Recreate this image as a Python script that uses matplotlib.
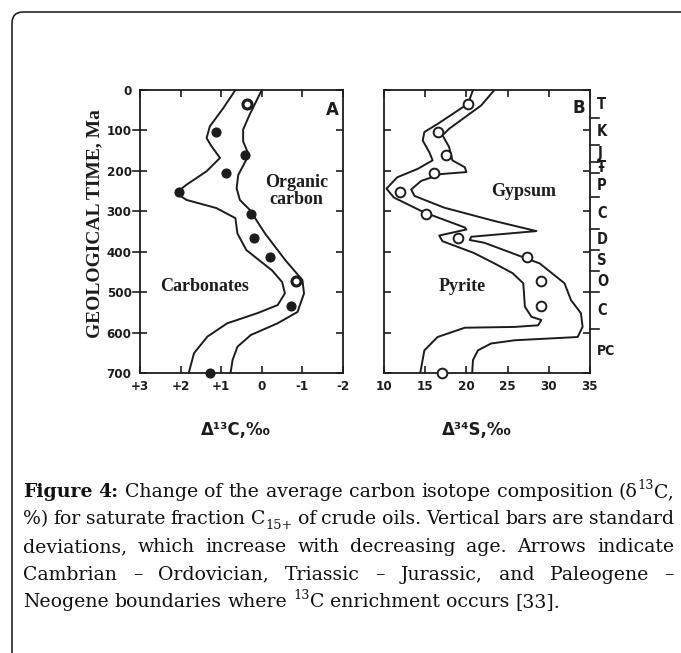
import re
import matplotlib
matplotlib.use("Agg")
import matplotlib.pyplot as plt
from matplotlib.patches import FancyBboxPatch
from matplotlib.transforms import Affine2D, blended_transform_factory

W, H, DPI = 681, 653, 100

# ---------------- data: panel A (delta 13C) ----------------
age_carb = [0, 45, 90, 119, 139, 168, 201, 234, 255, 272, 292, 317, 355, 396, 446, 475, 503, 532, 552, 577, 610, 651, 700]
d13c_carb = [0.65, 0.95, 1.28, 1.36, 1.24, 1.03, 1.36, 1.85, 2.12, 1.85, 1.12, 0.65, 0.60, 0.38, -0.25, -0.50, -0.57, -0.39, 0.11, 0.85, 1.34, 1.67, 1.80]
age_org = [0, 61, 98, 127, 156, 172, 210, 243, 272, 296, 355, 421, 470, 503, 549, 577, 606, 635, 668, 700]
d13c_org = [0.00, 0.30, 0.46, 0.46, 0.34, 0.38, 0.58, 0.62, 0.54, 0.30, -0.08, -0.58, -1.00, -1.04, -0.88, -0.39, 0.27, 0.60, 0.72, 0.77]
age_pts = [35, 105, 160, 206, 253, 306, 367, 414, 473, 534, 700]
d13c_pts = [0.36, 1.12, 0.42, 0.89, 2.05, 0.26, 0.18, -0.20, -0.85, -0.72, 1.28]
d13c_open = [True, False, False, False, False, False, False, False, True, False, False]
xticksA = [3, 2, 1, 0, -1, -2]
xlabelsA = ["+3", "+2", "+1", "0", "-1", "-2"]

# ---------------- data: panel B (delta 34S) ----------------
age_pyr = [0, 34, 84, 104, 125, 154, 174, 195, 216, 244, 266, 303, 340, 345, 360, 374, 403, 430, 453, 478, 536, 561, 569, 582, 586, 588, 611, 644, 700]
d34s_pyr = [20.8, 20.2, 16.5, 14.9, 14.7, 15.5, 15.9, 14.1, 11.6, 10.3, 11.2, 14.9, 19.8, 20.0, 16.7, 17.1, 20.9, 23.5, 25.6, 26.9, 27.1, 27.9, 29.1, 28.7, 25.9, 19.8, 16.5, 14.9, 14.4]
age_gyp = [0, 38, 96, 112, 141, 174, 191, 203, 208, 225, 246, 262, 291, 324, 349, 363, 371, 378, 429, 478, 520, 552, 586, 611, 619, 627, 644, 668, 700]
d34s_gyp = [23.4, 21.8, 17.9, 17.1, 17.9, 18.3, 19.8, 20.0, 16.9, 14.5, 13.3, 13.7, 17.3, 23.4, 28.5, 20.6, 20.4, 22.2, 28.9, 31.9, 32.7, 33.9, 34.1, 33.5, 25.9, 23.0, 21.4, 20.8, 20.7]
d34s_pts = [20.2, 16.5, 17.5, 16.1, 12.0, 15.1, 19.0, 27.3, 29.1, 29.1, 17.0]
xticksB = [10, 15, 20, 25, 30, 35]
period_names = ["T", "K", "J", "Ŧ", "P", "C", "D", "S", "O", "C", "PC"]
period_bounds = [0, 70, 135, 178, 205, 265, 345, 395, 448, 500, 590, 700]

yticks = [0, 100, 200, 300, 400, 500, 600, 700]

caption = [
    "**Figure** **4:** Change of the average carbon isotope composition (δ^{13}C,",
    "%) for saturate fraction C_{15+} of crude oils. Vertical bars are standard",
    "deviations, which increase with decreasing age. Arrows indicate",
    "Cambrian – Ordovician, Triassic – Jurassic, and Paleogene –",
    "Neogene boundaries where ^{13}C enrichment occurs [33].",
]

TICKFONT = ["DejaVu Sans"]
SERIF = ["Liberation Serif", "DejaVu Serif"]
CAPFONT = ["DejaVu Serif"]
INK = "#1c1c1c"

fig = plt.figure(figsize=(W / DPI, H / DPI), dpi=DPI)
fig.patch.set_facecolor("white")


def rect(l, t, r, b):
    return [l / W, 1 - b / H, (r - l) / W, (b - t) / H]


def style_axes(ax, outward_left):
    for s in ax.spines.values():
        s.set_linewidth(1.3)
        s.set_color(INK)
    ax.set_ylim(700, 0)
    ax.tick_params(axis="both", which="major", color=INK, width=1.2, direction="in")
    ax.tick_params(axis="y", left=True, right=True, length=5, pad=6)
    ax.tick_params(axis="x", top=True, bottom=True, length=5, pad=5)
    for lab in ax.get_xticklabels() + ax.get_yticklabels():
        lab.set_family(TICKFONT)
        lab.set_fontstretch("condensed")
        lab.set_fontweight("bold")
        lab.set_fontsize(9.5)
        lab.set_color(INK)
    if outward_left:
        bt = blended_transform_factory(ax.transAxes, ax.transData)
        for v in yticks[1:-1]:
            ax.plot([-0.035, 0], [v, v], color=INK, lw=1.2, transform=bt, clip_on=False)


# ---------------- panel A ----------------
axA = fig.add_axes(rect(140, 90, 343, 373))
axA.plot(d13c_carb, age_carb, color=INK, lw=1.4)
axA.plot(d13c_org, age_org, color=INK, lw=1.4)
for x, y, op in zip(d13c_pts, age_pts, d13c_open):
    axA.plot([x], [y], "o", ms=6.5 if op else 6.3, mfc="white" if op else INK,
             mec=INK, mew=2.2 if op else 1, clip_on=False, zorder=5)
axA.set_xlim(3, -2)
axA.set_xticks(xticksA)
axA.set_xticklabels(xlabelsA)
axA.set_yticks(yticks)
axA.set_yticklabels([str(v) for v in yticks])
style_axes(axA, True)
axA.text(0.95, 0.93, "A", transform=axA.transAxes, family=TICKFONT, fontweight="bold",
         fontsize=12, ha="center", va="center", color=INK)
axA.text(-0.85, 250, "Organic\ncarbon", family=SERIF, fontweight="bold", fontsize=13,
         ha="center", va="center", linespacing=1.0, color=INK)
axA.text(1.4, 485, "Carbonates", family=SERIF, fontweight="bold", fontsize=13,
         ha="center", va="center", color=INK)
axA.set_xlabel("Δ¹³C,‰", family=TICKFONT, fontweight="bold", fontsize=12, color=INK)
axA.xaxis.set_label_coords(0.473, -0.17)
axA.set_ylabel("GEOLOGICAL TIME, Ma", family=SERIF, fontweight="bold", fontsize=14, color=INK)
axA.yaxis.set_label_coords(-0.18, 0.527)

# ---------------- panel B ----------------
axB = fig.add_axes(rect(384, 90, 590, 373))
axB.plot(d34s_pyr, age_pyr, color=INK, lw=1.4)
axB.plot(d34s_gyp, age_gyp, color=INK, lw=1.4)
axB.plot(d34s_pts, age_pts, "o", ms=7, mfc="white", mec=INK, mew=1.4, clip_on=False, zorder=5)
axB.set_xlim(10, 35)
axB.set_xticks(xticksB)
axB.set_xticklabels([str(v) for v in xticksB])
axB.set_yticks(yticks)
axB.set_yticklabels([])
style_axes(axB, False)
axB.text(0.947, 0.936, "B", transform=axB.transAxes, family=TICKFONT, fontweight="bold",
         fontsize=12, ha="center", va="center", color=INK)
axB.text(26.9, 250, "Gypsum", family=SERIF, fontweight="bold", fontsize=13,
         ha="center", va="center", color=INK)
axB.text(19.5, 487, "Pyrite", family=SERIF, fontweight="bold", fontsize=13,
         ha="center", va="center", color=INK)
axB.set_xlabel("Δ³⁴S,‰", family=TICKFONT, fontweight="bold", fontsize=12, color=INK)
axB.xaxis.set_label_coords(0.45, -0.17)

# geological period strip
bt = blended_transform_factory(axB.transAxes, axB.transData)
for b in period_bounds[1:-1]:
    axB.plot([1.0, 1.045], [b, b], color=INK, lw=1.2, transform=bt, clip_on=False)
for name, a, b in zip(period_names, period_bounds[:-1], period_bounds[1:]):
    t = axB.text(1.035, (a + b) / 2, name, transform=bt, family=TICKFONT, fontweight="bold",
                 fontsize=10.5 if len(name) == 1 else 10, ha="left", va="center", color=INK)
    t.set_fontstretch("condensed")

# ---------------- frame ----------------
frame = FancyBboxPatch((0.12, -0.5), 7.5, (H - 12) / DPI + 0.5,
                       boxstyle="round,pad=0,rounding_size=0.11",
                       transform=fig.dpi_scale_trans, fill=False, ec="#111111", lw=1.1)
fig.add_artist(frame)

# ---------------- caption (justified) ----------------
pix = Affine2D().scale(1.0 / DPI) + fig.dpi_scale_trans
renderer = fig.canvas.get_renderer()
CAP_FS = 13.6
x_left, x_right = 23, 674
baselines = [497, 524.5, 552, 579.5, 607]


def parse_word(word):
    bold = False
    if word.startswith("**") and word.endswith("**"):
        bold = True
        word = word[2:-2]
    segs = []
    for part in re.split(r"(\^\{[^}]*\}|_\{[^}]*\})", word):
        if not part:
            continue
        if part.startswith("^{"):
            segs.append((part[2:-1], "sup", bold))
        elif part.startswith("_{"):
            segs.append((part[2:-1], "sub", bold))
        else:
            segs.append((part, "n", bold))
    return segs


def make_seg(x, ybase, text, kind, bold):
    fs = CAP_FS if kind == "n" else CAP_FS * 0.68
    dy = 0
    if kind == "sup":
        dy = CAP_FS * 1.389 * 0.42
    elif kind == "sub":
        dy = -CAP_FS * 1.389 * 0.22
    t = fig.text(x, H - ybase + dy, text, transform=pix, family=CAPFONT, fontsize=fs,
                 fontweight="bold" if bold else "normal", ha="left", va="baseline", color="#111111")
    return t


space_probe = fig.text(0, 0, "a a", transform=pix, family=CAPFONT, fontsize=CAP_FS)
nospace_probe = fig.text(0, 0, "aa", transform=pix, family=CAPFONT, fontsize=CAP_FS)
space_w = space_probe.get_window_extent(renderer).width - nospace_probe.get_window_extent(renderer).width
space_probe.remove()
nospace_probe.remove()

for i, (line, yb) in enumerate(zip(caption, baselines)):
    words = [parse_word(w) for w in line.split(" ")]
    widths = []
    for segs in words:
        wsum = 0
        for text, kind, bold in segs:
            t = make_seg(0, yb, text, kind, bold)
            wsum += t.get_window_extent(renderer).width
            t.remove()
        widths.append(wsum)
    last = i == len(caption) - 1
    if last or len(words) < 2:
        gap = space_w
    else:
        gap = (x_right - x_left - sum(widths)) / (len(words) - 1)
    x = x_left
    for segs, wd in zip(words, widths):
        xx = x
        for text, kind, bold in segs:
            t = make_seg(xx, yb, text, kind, bold)
            xx += t.get_window_extent(renderer).width
        x += wd + gap

fig.savefig("out.png", dpi=DPI, facecolor="white")
